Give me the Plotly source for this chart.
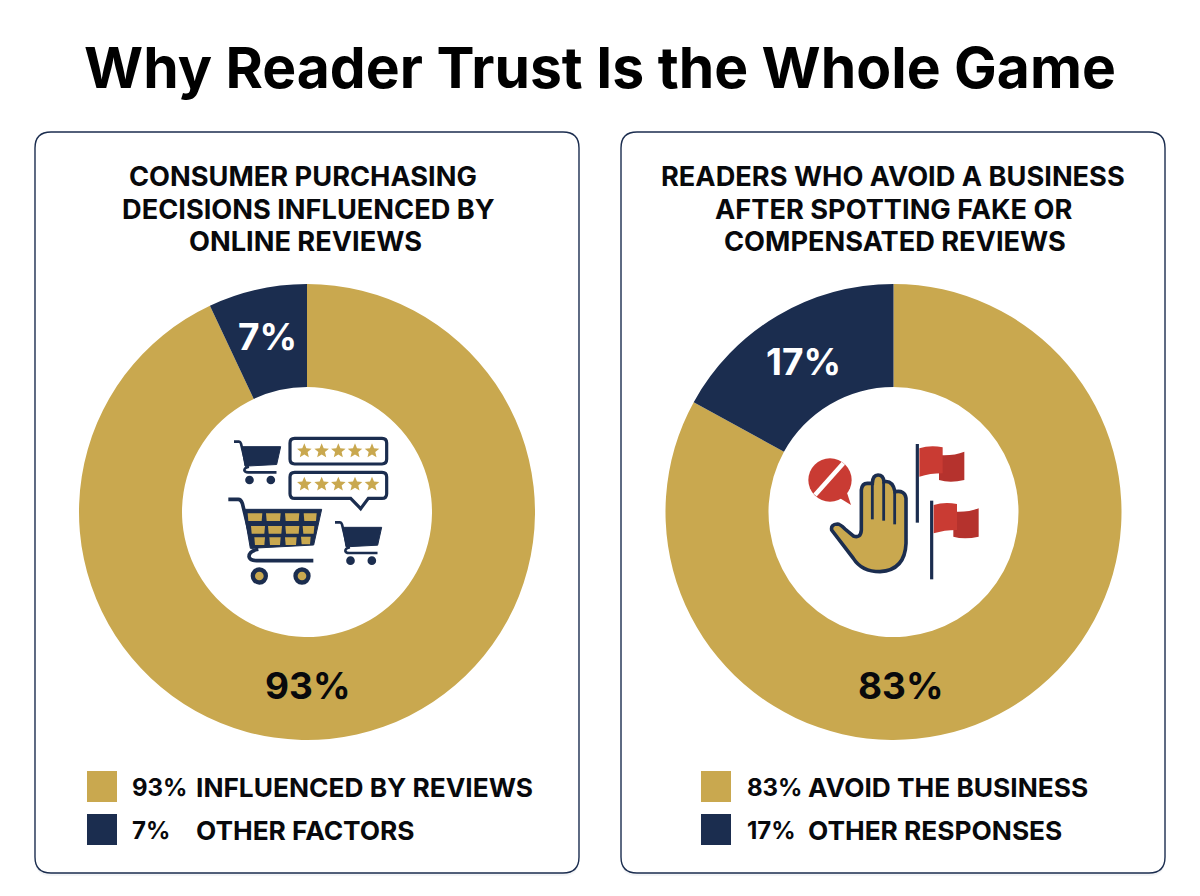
# -*- coding: utf-8 -*-
"""Two donut cards: why reader trust matters."""
import math
import re

import plotly.graph_objects as go

# the page adds an 8px body margin, so the figure is 16px smaller than the shot
W, H = 1184, 880
PAGE_MARGIN = 8
GOLD = "#C9A84F"
NAVY = "#1B2D4F"
RED = "#C93B33"
RED_DARK = "#B5322D"
INK = "#08090C"
FONT = "Inter"

TITLE = "Why Reader Trust Is the Whole Game"

left_heading = ["CONSUMER PURCHASING", "DECISIONS INFLUENCED BY", "ONLINE REVIEWS"]
left_values = [93, 7]
left_labels = ["INFLUENCED BY REVIEWS", "OTHER FACTORS"]

right_heading = ["READERS WHO AVOID A BUSINESS", "AFTER SPOTTING FAKE OR", "COMPENSATED REVIEWS"]
right_values = [83, 17]
right_labels = ["AVOID THE BUSINESS", "OTHER RESPONSES"]


def px(x):
    return (x - PAGE_MARGIN) / W


def py(y):
    return 1 - (y - PAGE_MARGIN) / H


def place(d, ox=0.0, oy=0.0, s=1.0):
    """Turn a path written in pixels (x y pairs) into paper coordinates."""
    def repl(m):
        x, y = float(m.group(1)), float(m.group(2))
        return f"{px(ox + x * s):.5f},{py(oy + y * s):.5f}"
    return re.sub(r"(-?[\d.]+) (-?[\d.]+)", repl, d)


def path(d, ox=0.0, oy=0.0, s=1.0, fill=None, line=None, lw=0, layer="above"):
    return dict(
        type="path", xref="paper", yref="paper", layer=layer,
        path=place(d, ox, oy, s),
        fillcolor=fill if fill else "rgba(0,0,0,0)",
        line=dict(color=line if line else "rgba(0,0,0,0)", width=lw),
    )


def disc(cx, cy, r, fill, line=None, lw=0):
    return dict(
        type="circle", xref="paper", yref="paper",
        x0=px(cx - r), x1=px(cx + r), y0=py(cy + r), y1=py(cy - r),
        fillcolor=fill, line=dict(color=line if line else "rgba(0,0,0,0)", width=lw),
    )


def rounded(x0, y0, x1, y1, r):
    return (f"M {x0 + r} {y0} L {x1 - r} {y0} Q {x1} {y0} {x1} {y0 + r} "
            f"L {x1} {y1 - r} Q {x1} {y1} {x1 - r} {y1} L {x0 + r} {y1} "
            f"Q {x0} {y1} {x0} {y1 - r} L {x0} {y0 + r} Q {x0} {y0} {x0 + r} {y0} Z")


def star(cx, cy, r):
    pts = []
    for k in range(10):
        a = -math.pi / 2 + k * math.pi / 5
        rr = r if k % 2 == 0 else r * 0.45
        pts.append(f"{cx + rr * math.cos(a):.2f} {cy + rr * math.sin(a):.2f}")
    return "M " + " L ".join(pts) + " Z"


def text(x, y, s, size, color=INK, anchor="center", weight=700):
    return dict(
        xref="paper", yref="paper", x=px(x), y=py(y), text=s, showarrow=False,
        xanchor=anchor, yanchor="middle",
        font=dict(family=FONT, size=size, color=color, weight=weight),
    )


def cart(ox, oy, s, big=False):
    """Shopping cart; local units are the big cart at 1/3 pixel."""
    k = s / 3
    lw = 3.6 if big else 2.6
    out = [
        path("M 0 0 L 30 0 Q 38 0 42 12 L 75 148", ox, oy, k, line=NAVY, lw=lw),
        path("M 46 30 L 280 30 L 256 137 L 66 147 Z", ox, oy, k, fill=NAVY, line=NAVY, lw=1),
        path("M 90 150 Q 62 155 62 172 Q 64 184 85 184 L 255 184", ox, oy, k, line=NAVY, lw=lw),
    ]
    for wx in (93, 221):
        cx, cy = ox + wx * k, oy + 230 * k
        out.append(disc(cx, cy, 26 * k, NAVY))
        if big:
            out.append(disc(cx, cy, 13 * k, GOLD))
    if big:
        cells = [
            [(58, 102, 42), (113, 157, 42), (170, 213, 42), (226, 265, 42)],
            [(68, 110, 80), (119, 161, 80), (171, 213, 80), (223, 258, 80)],
            [(78, 110, 114), (123, 157, 114), (170, 205, 114), (218, 247, 112)],
        ]
        for row in cells:
            for a, b, top in row:
                out.append(path(
                    f"M {a} {top} L {b} {top} L {b - 2} {top + 23} L {a + 2} {top + 23} Z",
                    ox, oy, k, fill=GOLD))
    return out


def review_icon():
    ox, oy, k = 200, 420, 1 / 3
    out = []
    out += cart(ox + 102 * k, oy + 65 * k, 0.5)
    out += cart(ox + 405 * k, oy + 307 * k, 0.5)
    out += cart(ox + 85 * k, oy + 238 * k, 1.0, big=True)
    out.append(path(rounded(270, 55, 560, 132, 14), ox, oy, k, fill="white", line=NAVY, lw=3.2))
    out.append(path(
        "M 284 157 L 546 157 Q 560 157 560 171 L 560 221 Q 560 235 546 235 L 505 235 "
        "L 482 266 L 452 235 L 284 235 Q 270 235 270 221 L 270 171 Q 270 157 284 157 Z",
        ox, oy, k, fill="white", line=NAVY, lw=3.2))
    for sy in (93, 193):
        for sx in (313, 365, 415, 465, 516):
            out.append(path(star(sx, sy, 23), ox, oy, k, fill=GOLD))
    return out


def flag(ox, oy):
    k = 1 / 3
    return [
        path("M 382 42 L 382 278", ox, oy, k, line=NAVY, lw=3.2),
        path("M 447 75 Q 490 78 523 65 L 523 150 Q 480 160 447 150 Z", ox, oy, k, fill=RED_DARK),
        path("M 388 55 Q 420 45 458 52 L 458 130 Q 420 130 388 140 Z", ox, oy, k, fill=RED),
    ]


def avoid_icon():
    ox, oy, k = 790, 430, 1 / 3
    out = flag(ox, oy)
    out += flag(ox + 43 * k, oy + 170 * k)
    out.append(disc(ox + 120 * k, oy + 150 * k, 65 * k, RED))
    out.append(path("M 150 205 L 183 225 L 170 185 Z", ox, oy, k, fill=RED))
    out.append(path("M 75 195 L 160 100", ox, oy, k, line="white", lw=4.5))
    out.append(path(
        "M 125 300 Q 122 283 142 282 Q 150 282 165 297 L 190 318 Q 212 326 214 300 "
        "L 214 180 Q 216 160 232 160 L 247 160 Q 248 135 264 135 Q 280 135 282 155 "
        "Q 308 150 315 185 Q 345 180 348 205 L 348 340 Q 345 420 270 425 Q 215 425 190 385 Z",
        ox, oy, k, fill=GOLD, line=NAVY, lw=3.6))
    for d in ("M 247 160 L 247 268", "M 281 155 L 281 272", "M 314 185 L 314 283"):
        out.append(path(d, ox, oy, k, line=NAVY, lw=2.8))
    return out


def donut(values, labels, cx, cy=512, r=228):
    return go.Pie(
        values=values, labels=labels, sort=False, direction="clockwise", rotation=0,
        hole=125 / 228, textinfo="none", showlegend=False,
        marker=dict(colors=[GOLD, NAVY], line=dict(width=0)),
        domain=dict(x=[px(cx - r), px(cx + r)], y=[py(cy + r), py(cy - r)]),
    )


fig = go.Figure([
    donut(left_values, left_labels, 307),
    donut(right_values, right_labels, 893.5),
])

shapes = []
for x0 in (35, 621):
    x1 = x0 + 544
    shapes.append(path(rounded(x0, 135, x1, 876, 16), fill="rgba(27,45,79,0.05)", layer="below"))
    shapes.append(path(rounded(x0, 132, x1, 873, 16), fill="white", line=NAVY, lw=1.4, layer="below"))
shapes += review_icon()
shapes += avoid_icon()

annotations = [text(600, 68, f"<b>{TITLE}</b>", 57, color="#000000", weight=800)]

# the heading lines are not quite centred on one axis in the reference
heading_blocks = (
    (left_heading, (303, 308, 305)),
    (right_heading, (893, 893, 895)),
)
for lines, centres in heading_blocks:
    for i, line in enumerate(lines):
        annotations.append(text(centres[i], 177 + i * 32, line, 27.2))

# value labels sit on the ring
annotations += [
    text(308, 685, f"{left_values[0]}%", 37),
    text(267, 337, f"{left_values[1]}%", 37, color="white"),
    text(901, 685, f"{right_values[0]}%", 37),
    text(803, 361, f"{right_values[1]}%", 37, color="white"),
]

legend_rows = (
    (87, 130, 194, left_values, left_labels),
    (701, 745, 806, right_values, right_labels),
)
for sq_x, val_x, lab_x, vals, labs in legend_rows:
    for i, y in enumerate((787, 830)):
        color = GOLD if i == 0 else NAVY
        shapes.append(path(rounded(sq_x, y - 16, sq_x + 30, y + 15, 0.1), fill=color))
        annotations.append(text(val_x, y, f"{vals[i]}%", 24, anchor="left"))
        annotations.append(text(lab_x, y, labs[i], 26.3, anchor="left"))

fig.update_layout(
    width=W, height=H, margin=dict(l=0, r=0, t=0, b=0),
    paper_bgcolor="white", plot_bgcolor="white",
    shapes=shapes, annotations=annotations,
)

fig.write_html("out.html")
